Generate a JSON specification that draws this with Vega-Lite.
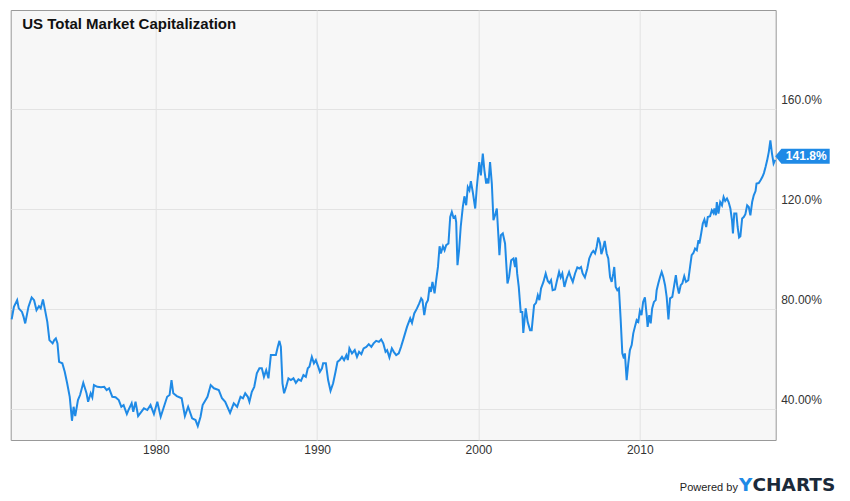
{
  "$schema": "https://vega.github.io/schema/vega-lite/v6.json",
  "autosize": {"type": "none"},
  "padding": {"left": 10.7, "top": 10, "right": 74.3, "bottom": 61},
  "width": 765,
  "height": 430,
  "background": "white",
  "config": {
    "font": "Liberation Sans",
    "view": {"fill": "#f7f7f7", "stroke": "#999999", "strokeWidth": 1}
  },
  "datasets": {
    "mcap": [
      {"year": 1971.06, "value": 75.9}, {"year": 1971.2, "value": 80.9}, {"year": 1971.4, "value": 83.6},
      {"year": 1971.5, "value": 80.3}, {"year": 1971.7, "value": 78.9}, {"year": 1971.8, "value": 76.9},
      {"year": 1971.9, "value": 74.3}, {"year": 1972.1, "value": 80.9}, {"year": 1972.3, "value": 84.7},
      {"year": 1972.45, "value": 83.6}, {"year": 1972.6, "value": 79.6}, {"year": 1972.75, "value": 81.2},
      {"year": 1972.86, "value": 80.3}, {"year": 1973.0, "value": 83.9}, {"year": 1973.13, "value": 79.6},
      {"year": 1973.27, "value": 74.9}, {"year": 1973.4, "value": 67.6}, {"year": 1973.6, "value": 66.3},
      {"year": 1973.7, "value": 67.6}, {"year": 1973.8, "value": 68.3}, {"year": 1973.9, "value": 66.3},
      {"year": 1974.0, "value": 58.9}, {"year": 1974.2, "value": 58.3}, {"year": 1974.35, "value": 54.9},
      {"year": 1974.5, "value": 50.3}, {"year": 1974.66, "value": 44.9}, {"year": 1974.8, "value": 35.3},
      {"year": 1974.9, "value": 40.9}, {"year": 1975.0, "value": 37.2}, {"year": 1975.17, "value": 43.6},
      {"year": 1975.3, "value": 45.6}, {"year": 1975.5, "value": 50.5}, {"year": 1975.7, "value": 46.3},
      {"year": 1975.8, "value": 42.9}, {"year": 1975.96, "value": 46.3}, {"year": 1976.06, "value": 44.7},
      {"year": 1976.16, "value": 49.6}, {"year": 1976.37, "value": 48.9}, {"year": 1976.6, "value": 48.7},
      {"year": 1976.8, "value": 48.9}, {"year": 1976.95, "value": 47.6}, {"year": 1977.1, "value": 48.3},
      {"year": 1977.3, "value": 44.9}, {"year": 1977.5, "value": 44.7}, {"year": 1977.7, "value": 43.6},
      {"year": 1977.86, "value": 40.9}, {"year": 1978.0, "value": 41.6}, {"year": 1978.2, "value": 38.0},
      {"year": 1978.3, "value": 39.6}, {"year": 1978.5, "value": 42.3}, {"year": 1978.6, "value": 38.9},
      {"year": 1978.74, "value": 42.9}, {"year": 1978.9, "value": 37.2}, {"year": 1979.05, "value": 38.5},
      {"year": 1979.26, "value": 40.3}, {"year": 1979.47, "value": 39.6}, {"year": 1979.67, "value": 41.6},
      {"year": 1979.88, "value": 38.0}, {"year": 1980.09, "value": 42.9}, {"year": 1980.3, "value": 36.9},
      {"year": 1980.5, "value": 40.9}, {"year": 1980.7, "value": 44.9}, {"year": 1980.85, "value": 45.6},
      {"year": 1980.97, "value": 51.6}, {"year": 1981.08, "value": 46.3}, {"year": 1981.3, "value": 45.2},
      {"year": 1981.6, "value": 44.3}, {"year": 1981.8, "value": 37.2}, {"year": 1982.0, "value": 40.9},
      {"year": 1982.25, "value": 36.3}, {"year": 1982.46, "value": 35.6}, {"year": 1982.6, "value": 33.2},
      {"year": 1982.77, "value": 36.9}, {"year": 1982.9, "value": 41.6}, {"year": 1983.2, "value": 44.9},
      {"year": 1983.4, "value": 49.6}, {"year": 1983.6, "value": 48.3}, {"year": 1983.9, "value": 47.6},
      {"year": 1984.1, "value": 44.3}, {"year": 1984.3, "value": 42.9}, {"year": 1984.6, "value": 38.5},
      {"year": 1984.83, "value": 42.3}, {"year": 1985.04, "value": 40.9}, {"year": 1985.25, "value": 44.9},
      {"year": 1985.4, "value": 44.3}, {"year": 1985.54, "value": 46.3}, {"year": 1985.7, "value": 44.9},
      {"year": 1985.8, "value": 42.9}, {"year": 1985.95, "value": 46.9}, {"year": 1986.1, "value": 48.9},
      {"year": 1986.26, "value": 54.3}, {"year": 1986.42, "value": 56.3}, {"year": 1986.57, "value": 56.3},
      {"year": 1986.7, "value": 52.9}, {"year": 1986.84, "value": 55.6}, {"year": 1986.98, "value": 52.3},
      {"year": 1987.13, "value": 61.6}, {"year": 1987.3, "value": 61.6}, {"year": 1987.44, "value": 61.6},
      {"year": 1987.56, "value": 64.9}, {"year": 1987.66, "value": 67.3}, {"year": 1987.75, "value": 64.9},
      {"year": 1987.85, "value": 50.3}, {"year": 1987.95, "value": 46.3}, {"year": 1988.08, "value": 48.9},
      {"year": 1988.22, "value": 52.3}, {"year": 1988.37, "value": 51.6}, {"year": 1988.53, "value": 52.3},
      {"year": 1988.68, "value": 50.5}, {"year": 1988.84, "value": 51.9}, {"year": 1989.0, "value": 51.3},
      {"year": 1989.15, "value": 53.6}, {"year": 1989.3, "value": 52.9}, {"year": 1989.42, "value": 56.3},
      {"year": 1989.52, "value": 56.9}, {"year": 1989.67, "value": 60.9}, {"year": 1989.8, "value": 58.3},
      {"year": 1989.92, "value": 59.6}, {"year": 1990.07, "value": 56.9}, {"year": 1990.17, "value": 54.9},
      {"year": 1990.3, "value": 56.3}, {"year": 1990.37, "value": 58.3}, {"year": 1990.54, "value": 58.3},
      {"year": 1990.68, "value": 51.6}, {"year": 1990.83, "value": 47.3}, {"year": 1990.99, "value": 50.3},
      {"year": 1991.14, "value": 54.9}, {"year": 1991.26, "value": 58.9}, {"year": 1991.4, "value": 59.6},
      {"year": 1991.54, "value": 60.9}, {"year": 1991.67, "value": 59.6}, {"year": 1991.81, "value": 61.6},
      {"year": 1991.9, "value": 59.6}, {"year": 1992.0, "value": 64.3}, {"year": 1992.16, "value": 62.3},
      {"year": 1992.33, "value": 63.6}, {"year": 1992.47, "value": 60.9}, {"year": 1992.6, "value": 62.9},
      {"year": 1992.74, "value": 62.0}, {"year": 1992.88, "value": 64.3}, {"year": 1993.05, "value": 64.9},
      {"year": 1993.2, "value": 66.0}, {"year": 1993.36, "value": 64.9}, {"year": 1993.5, "value": 66.3},
      {"year": 1993.66, "value": 67.3}, {"year": 1993.83, "value": 66.9}, {"year": 1993.97, "value": 67.9},
      {"year": 1994.1, "value": 66.3}, {"year": 1994.24, "value": 62.9}, {"year": 1994.34, "value": 63.6},
      {"year": 1994.48, "value": 60.7}, {"year": 1994.63, "value": 64.3}, {"year": 1994.75, "value": 62.9},
      {"year": 1994.9, "value": 61.6}, {"year": 1995.06, "value": 62.3}, {"year": 1995.2, "value": 64.9},
      {"year": 1995.36, "value": 68.3}, {"year": 1995.57, "value": 72.9}, {"year": 1995.77, "value": 76.3},
      {"year": 1995.88, "value": 74.5}, {"year": 1996.02, "value": 78.3}, {"year": 1996.19, "value": 80.3},
      {"year": 1996.33, "value": 82.3}, {"year": 1996.45, "value": 84.3}, {"year": 1996.53, "value": 83.6},
      {"year": 1996.64, "value": 77.6}, {"year": 1996.76, "value": 82.3}, {"year": 1996.87, "value": 83.6},
      {"year": 1996.97, "value": 88.9}, {"year": 1997.05, "value": 86.9}, {"year": 1997.15, "value": 90.9},
      {"year": 1997.28, "value": 86.3}, {"year": 1997.38, "value": 91.6}, {"year": 1997.49, "value": 96.9},
      {"year": 1997.59, "value": 105.2}, {"year": 1997.67, "value": 102.3}, {"year": 1997.8, "value": 105.2},
      {"year": 1997.9, "value": 103.6}, {"year": 1998.0, "value": 105.6}, {"year": 1998.14, "value": 106.3},
      {"year": 1998.25, "value": 116.9}, {"year": 1998.35, "value": 118.9}, {"year": 1998.45, "value": 116.7},
      {"year": 1998.56, "value": 117.2}, {"year": 1998.62, "value": 114.9}, {"year": 1998.7, "value": 97.6},
      {"year": 1998.8, "value": 103.6}, {"year": 1998.9, "value": 112.9}, {"year": 1999.03, "value": 120.9},
      {"year": 1999.13, "value": 125.2}, {"year": 1999.24, "value": 121.6}, {"year": 1999.34, "value": 128.9},
      {"year": 1999.44, "value": 127.6}, {"year": 1999.53, "value": 131.3}, {"year": 1999.65, "value": 126.9},
      {"year": 1999.8, "value": 120.3}, {"year": 1999.9, "value": 128.9}, {"year": 2000.05, "value": 138.9},
      {"year": 2000.15, "value": 133.6}, {"year": 2000.27, "value": 142.3}, {"year": 2000.37, "value": 135.6},
      {"year": 2000.48, "value": 130.3}, {"year": 2000.56, "value": 132.3}, {"year": 2000.62, "value": 130.3},
      {"year": 2000.72, "value": 138.9}, {"year": 2000.83, "value": 130.3}, {"year": 2000.93, "value": 115.6},
      {"year": 2001.03, "value": 117.6}, {"year": 2001.14, "value": 120.3}, {"year": 2001.24, "value": 108.9},
      {"year": 2001.3, "value": 101.6}, {"year": 2001.39, "value": 109.6}, {"year": 2001.51, "value": 110.3},
      {"year": 2001.65, "value": 106.3}, {"year": 2001.8, "value": 90.3}, {"year": 2001.9, "value": 92.9},
      {"year": 2002.03, "value": 99.6}, {"year": 2002.17, "value": 100.3}, {"year": 2002.27, "value": 96.9},
      {"year": 2002.33, "value": 100.7}, {"year": 2002.4, "value": 94.3}, {"year": 2002.5, "value": 88.9},
      {"year": 2002.62, "value": 78.9}, {"year": 2002.72, "value": 78.9}, {"year": 2002.78, "value": 70.5},
      {"year": 2002.93, "value": 80.3}, {"year": 2003.05, "value": 74.9}, {"year": 2003.2, "value": 71.6},
      {"year": 2003.3, "value": 71.6}, {"year": 2003.45, "value": 81.6}, {"year": 2003.57, "value": 82.5},
      {"year": 2003.68, "value": 85.6}, {"year": 2003.78, "value": 83.6}, {"year": 2003.88, "value": 88.3},
      {"year": 2004.03, "value": 90.9}, {"year": 2004.17, "value": 94.3}, {"year": 2004.3, "value": 91.3},
      {"year": 2004.4, "value": 90.5}, {"year": 2004.5, "value": 91.6}, {"year": 2004.6, "value": 87.6},
      {"year": 2004.75, "value": 87.9}, {"year": 2004.85, "value": 90.9}, {"year": 2005.0, "value": 94.9},
      {"year": 2005.1, "value": 92.7}, {"year": 2005.2, "value": 94.3}, {"year": 2005.33, "value": 88.9},
      {"year": 2005.47, "value": 92.3}, {"year": 2005.62, "value": 94.9}, {"year": 2005.72, "value": 92.9},
      {"year": 2005.85, "value": 90.9}, {"year": 2005.99, "value": 94.3}, {"year": 2006.13, "value": 96.7},
      {"year": 2006.25, "value": 96.3}, {"year": 2006.36, "value": 96.9}, {"year": 2006.46, "value": 94.3},
      {"year": 2006.6, "value": 92.7}, {"year": 2006.75, "value": 96.3}, {"year": 2006.87, "value": 100.3},
      {"year": 2007.02, "value": 102.5}, {"year": 2007.12, "value": 103.3}, {"year": 2007.23, "value": 102.3},
      {"year": 2007.33, "value": 104.9}, {"year": 2007.43, "value": 108.7}, {"year": 2007.54, "value": 106.3},
      {"year": 2007.62, "value": 102.0}, {"year": 2007.7, "value": 103.6}, {"year": 2007.83, "value": 107.3},
      {"year": 2007.95, "value": 102.3}, {"year": 2008.05, "value": 100.3}, {"year": 2008.16, "value": 92.9},
      {"year": 2008.26, "value": 90.9}, {"year": 2008.36, "value": 94.3}, {"year": 2008.42, "value": 96.9},
      {"year": 2008.51, "value": 88.9}, {"year": 2008.61, "value": 87.6}, {"year": 2008.71, "value": 88.3},
      {"year": 2008.82, "value": 75.6}, {"year": 2008.92, "value": 62.3}, {"year": 2009.02, "value": 60.3},
      {"year": 2009.08, "value": 62.3}, {"year": 2009.19, "value": 51.6}, {"year": 2009.29, "value": 58.3},
      {"year": 2009.39, "value": 63.6}, {"year": 2009.5, "value": 65.6}, {"year": 2009.6, "value": 70.3},
      {"year": 2009.7, "value": 72.9}, {"year": 2009.81, "value": 75.6}, {"year": 2009.91, "value": 74.9},
      {"year": 2010.01, "value": 79.3}, {"year": 2010.11, "value": 77.6}, {"year": 2010.21, "value": 82.9},
      {"year": 2010.32, "value": 84.7}, {"year": 2010.43, "value": 77.6}, {"year": 2010.49, "value": 72.9},
      {"year": 2010.59, "value": 77.6}, {"year": 2010.68, "value": 74.3}, {"year": 2010.77, "value": 80.3},
      {"year": 2010.88, "value": 82.9}, {"year": 2010.99, "value": 83.6}, {"year": 2011.05, "value": 87.6},
      {"year": 2011.15, "value": 90.3}, {"year": 2011.26, "value": 92.9}, {"year": 2011.36, "value": 94.9},
      {"year": 2011.46, "value": 92.9}, {"year": 2011.57, "value": 89.6}, {"year": 2011.67, "value": 84.9},
      {"year": 2011.78, "value": 75.9}, {"year": 2011.88, "value": 84.3}, {"year": 2012.02, "value": 84.9},
      {"year": 2012.12, "value": 88.9}, {"year": 2012.24, "value": 93.6}, {"year": 2012.32, "value": 89.6},
      {"year": 2012.43, "value": 86.3}, {"year": 2012.54, "value": 89.6}, {"year": 2012.64, "value": 90.3},
      {"year": 2012.76, "value": 93.2}, {"year": 2012.87, "value": 90.9}, {"year": 2013.01, "value": 91.6},
      {"year": 2013.12, "value": 96.9}, {"year": 2013.22, "value": 101.6}, {"year": 2013.33, "value": 102.5},
      {"year": 2013.43, "value": 104.3}, {"year": 2013.54, "value": 103.6}, {"year": 2013.64, "value": 107.6},
      {"year": 2013.7, "value": 106.3}, {"year": 2013.81, "value": 110.3}, {"year": 2013.91, "value": 114.3},
      {"year": 2014.01, "value": 115.9}, {"year": 2014.12, "value": 112.9}, {"year": 2014.22, "value": 116.9},
      {"year": 2014.36, "value": 117.2}, {"year": 2014.47, "value": 119.6}, {"year": 2014.57, "value": 118.5},
      {"year": 2014.63, "value": 120.3}, {"year": 2014.72, "value": 117.6}, {"year": 2014.78, "value": 122.9},
      {"year": 2014.88, "value": 118.3}, {"year": 2014.99, "value": 122.9}, {"year": 2015.1, "value": 121.6},
      {"year": 2015.2, "value": 124.9}, {"year": 2015.3, "value": 123.3}, {"year": 2015.41, "value": 124.3},
      {"year": 2015.51, "value": 122.9}, {"year": 2015.62, "value": 120.3}, {"year": 2015.72, "value": 115.6},
      {"year": 2015.78, "value": 110.3}, {"year": 2015.86, "value": 118.3}, {"year": 2015.99, "value": 118.3},
      {"year": 2016.07, "value": 112.9}, {"year": 2016.16, "value": 108.7}, {"year": 2016.24, "value": 109.2},
      {"year": 2016.35, "value": 116.3}, {"year": 2016.45, "value": 116.9}, {"year": 2016.55, "value": 118.0},
      {"year": 2016.66, "value": 121.6}, {"year": 2016.76, "value": 120.9}, {"year": 2016.86, "value": 117.6},
      {"year": 2016.97, "value": 122.9}, {"year": 2017.07, "value": 125.6}, {"year": 2017.18, "value": 127.3},
      {"year": 2017.24, "value": 130.3}, {"year": 2017.38, "value": 130.5}, {"year": 2017.49, "value": 131.6},
      {"year": 2017.6, "value": 132.9}, {"year": 2017.7, "value": 134.5}, {"year": 2017.8, "value": 136.9},
      {"year": 2017.9, "value": 139.6}, {"year": 2018.0, "value": 142.9}, {"year": 2018.1, "value": 147.6},
      {"year": 2018.2, "value": 142.3}, {"year": 2018.3, "value": 138.3}, {"year": 2018.4, "value": 139.8}
    ],
    "last": [
      {"year": 2018.4, "value": 141.8, "label": "141.8%"}
    ]
  },
  "data": {"name": "mcap"},
  "resolve": {"axis": {"x": "independent", "y": "independent"}},
  "layer": [
    {
      "mark": {"type": "line", "color": "#1f8ae6", "strokeWidth": 2, "interpolate": "linear"},
      "encoding": {
        "x": {
          "field": "year", "type": "quantitative",
          "scale": {"domain": [1971.0, 2018.43], "nice": false, "zero": false},
          "axis": {
            "orient": "bottom", "values": [1980, 1990, 2000, 2010], "format": "d",
            "labelFontSize": 12, "labelColor": "#333333", "labelPadding": 4,
            "ticks": false, "tickSize": 0, "domain": false,
            "grid": true, "gridColor": "#e3e3e3",
            "title": "Powered by", "titleX": 668.6, "titleY": 50.5,
            "titleAlign": "left", "titleBaseline": "alphabetic",
            "titleFontSize": 11, "titleFontWeight": "normal", "titleColor": "#222222"
          }
        },
        "y": {
          "field": "value", "type": "quantitative",
          "scale": {"domain": [27.6, 199.8], "nice": false, "zero": false},
          "axis": {
            "orient": "right", "values": [40, 80, 120, 160],
            "labelExpr": "datum.value >= 100 ? format(datum.value, '.1f') + '%' : format(datum.value, '.2f') + '%'",
            "labelFontSize": 12, "labelColor": "#333333", "labelAlign": "left",
            "labelBaseline": "alphabetic", "labelOffset": -5.5, "labelPadding": 5,
            "ticks": false, "tickSize": 0, "domain": false,
            "grid": true, "gridColor": "#e3e3e3",
            "title": "CHARTS", "titleAngle": 0, "titleX": -23.7, "titleY": 480.7,
            "titleAlign": "left", "titleBaseline": "alphabetic",
            "titleFont": "DejaVu Sans", "titleFontSize": 18.5, "titleFontWeight": "bold",
            "titleColor": "#1b2a3a"
          }
        }
      }
    },
    {
      "data": {"name": "last"},
      "mark": {
        "type": "point", "filled": true, "opacity": 1, "color": "#1f8ae6", "size": 400,
        "shape": "M0,0.15L0.62,-0.6L5.45,-0.6L5.45,0.9L0.62,0.9Z"
      },
      "encoding": {
        "x": {
          "field": "year", "type": "quantitative",
          "scale": {"domain": [1971.0, 2018.43], "nice": false, "zero": false},
          "axis": {
            "orient": "top", "labels": false, "ticks": false, "domain": false, "grid": false,
            "title": "US Total Market Capitalization", "titleX": 11, "titleY": 18.3,
            "titleAlign": "left", "titleBaseline": "alphabetic",
            "titleFontSize": 15, "titleFontWeight": "bold", "titleColor": "#111111"
          }
        },
        "y": {
          "field": "value", "type": "quantitative",
          "scale": {"domain": [27.6, 199.8], "nice": false, "zero": false},
          "axis": {
            "orient": "left", "labels": false, "ticks": false, "domain": false, "grid": false,
            "title": "Y", "titleAngle": 0, "titleX": 741.3, "titleY": 480.7,
            "titleAlign": "right", "titleBaseline": "alphabetic",
            "titleFont": "DejaVu Sans", "titleFontSize": 18.5, "titleFontWeight": "bold",
            "titleColor": "#1f8ae6"
          }
        }
      }
    },
    {
      "data": {"name": "last"},
      "mark": {
        "type": "text", "color": "white", "fontSize": 12, "fontWeight": "bold",
        "align": "center", "baseline": "middle", "dx": 31, "dy": 1.5
      },
      "encoding": {
        "x": {"field": "year", "type": "quantitative", "scale": {"domain": [1971.0, 2018.43], "nice": false, "zero": false}, "axis": null},
        "y": {"field": "value", "type": "quantitative", "scale": {"domain": [27.6, 199.8], "nice": false, "zero": false}, "axis": null},
        "text": {"field": "label", "type": "nominal"}
      }
    }
  ]
}
